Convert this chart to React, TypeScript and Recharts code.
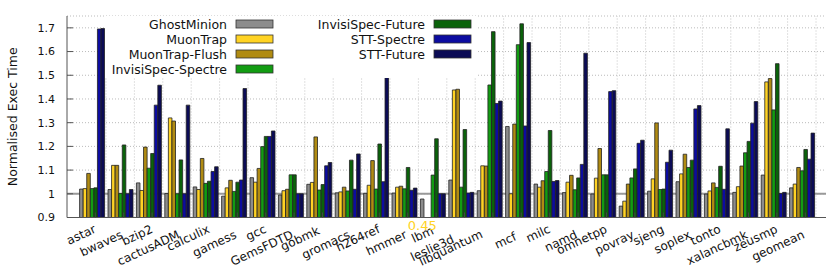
import React from 'react'
import {
  BarChart, Bar, XAxis, YAxis, CartesianGrid, ReferenceLine, Legend, LabelList,
} from 'recharts'

// SPEC benchmarks on the x axis
const benchmarks = [
  'astar', 'bwaves', 'bzip2', 'cactusADM', 'calculix', 'gamess', 'gcc', 'GemsFDTD',
  'gobmk', 'gromacs', 'h264ref', 'hmmer', 'lbm', 'leslie3d', 'libquantum', 'mcf',
  'milc', 'namd', 'omnetpp', 'povray', 'sjeng', 'soplex', 'tonto', 'xalancbmk',
  'zeusmp', 'geomean',
]

const ghostMinion = [1.02, 1.018, 1.046, 1.001, 1.029, 0.99, 1.068, 0.995, 1.04, 1.004, 1.002, 1.003, 0.978, 1.058, 1.013, 1.284, 1.041, 1.005, 0.999, 0.948, 1.011, 1.051, 0.999, 1.006, 1.079, 1.025]
const muonTrap = [1.022, 1.12, 1.014, 1.32, 1.018, 1.025, 1.049, 1.013, 1.048, 1.008, 1.036, 1.028, 0.45, 1.438, 1.118, 1.0, 1.028, 1.049, 1.066, 0.969, 1.063, 1.084, 1.012, 1.03, 1.472, 1.041]
const muonTrapFlush = [1.086, 1.12, 1.197, 1.307, 1.149, 1.057, 1.107, 1.019, 1.24, 1.028, 1.14, 1.032, 0.46, 1.441, 1.117, 1.294, 1.055, 1.078, 1.191, 1.041, 1.299, 1.167, 1.046, 1.117, 1.486, 1.111]
const invisiSpecSpectre = [1.022, 1.001, 1.108, 1.0, 1.044, 1.01, 1.199, 1.08, 1.016, 1.012, 1.02, 1.021, 1.079, 1.028, 1.459, 1.629, 1.094, 1.017, 1.08, 1.067, 1.018, 1.111, 1.027, 1.173, 1.354, 1.097]
const invisiSpecFuture = [1.025, 1.206, 1.17, 1.143, 1.053, 1.049, 1.242, 1.08, 1.039, 1.142, 1.21, 1.111, 1.232, 1.271, 1.684, 1.717, 1.267, 1.067, 1.08, 1.105, 1.02, 1.142, 1.116, 1.221, 1.549, 1.187]
const sttSpectre = [1.695, 1.0, 1.374, 1.0, 1.094, 1.058, 1.242, 1.0, 1.118, 1.019, 1.051, 1.015, 1.0, 1.003, 1.381, 1.286, 1.052, 1.124, 1.431, 1.213, 1.133, 1.358, 1.019, 1.298, 1.001, 1.146]
const sttFuture = [1.697, 1.018, 1.458, 1.374, 1.114, 1.444, 1.265, 1.0, 1.132, 1.168, 1.524, 1.024, 1.0, 1.006, 1.391, 1.638, 1.056, 1.593, 1.435, 1.226, 1.184, 1.372, 1.274, 1.389, 1.006, 1.256]

const yTicks = [0.9, 1.0, 1.1, 1.2, 1.3, 1.4, 1.5, 1.6, 1.7]

const series = [
  { key: 'GhostMinion', values: ghostMinion, color: '#8c8c8c' },
  { key: 'MuonTrap', values: muonTrap, color: '#ffd324' },
  { key: 'MuonTrap-Flush', values: muonTrapFlush, color: '#b08b12' },
  { key: 'InvisiSpec-Spectre', values: invisiSpecSpectre, color: '#129c12' },
  { key: 'InvisiSpec-Future', values: invisiSpecFuture, color: '#0a620a' },
  { key: 'STT-Spectre', values: sttSpectre, color: '#0c0ca0' },
  { key: 'STT-Future', values: sttFuture, color: '#0b0b55' },
]

const data = benchmarks.map((name, i) => {
  const row: Record<string, string | number> = { name }
  series.forEach(s => { row[s.key] = s.values[i] })
  return row
})

// some labels sit further back along their baseline in the original
const labelNudge: Record<string, number> = {
  gobmk: 3.9, lbm: 3.4, leslie3d: 10.5, libquantum: 12, mcf: 4.4,
}

const FONT = '"DejaVu Sans", Verdana, sans-serif'

function BenchTick(props: any) {
  const { x, y, payload } = props
  const idx = benchmarks.indexOf(payload.value)
  const tx = x + 3.5
  const lower = idx % 2 === 1
  const back = labelNudge[payload.value] || 0
  const ax = tx + (lower ? 0 : 1.5) - back * 0.906
  const ay = y + (lower ? 20 : 14.5) + back * 0.423
  return (
    <g>
      <line x1={tx} y1={y} x2={tx} y2={y - 5} stroke="#444" />
      <text x={ax} y={ay} textAnchor="end" transform={`rotate(-25 ${ax} ${ay})`}
        fontSize={12} fontFamily={FONT} fill="#111">
        {payload.value}
      </text>
    </g>
  )
}

function YTitle(props: any) {
  const vb = props.viewBox || {}
  const cy = vb.y + vb.height / 2
  return (
    <text x={12} y={cy} transform={`rotate(-90 12 ${cy})`} textAnchor="middle"
      dominantBaseline="central" fontSize={12.5} fontFamily={FONT} fill="#111">
      Normalised Exec Time
    </text>
  )
}

// value that falls below the axis gets written under it
function OffScaleLabel(props: any) {
  const { value } = props
  if (value == null || value >= 0.9) return null
  const vb = props.viewBox || props
  const base = Math.min(vb.y, vb.y + vb.height)
  return (
    <text x={vb.x + vb.width / 2 - 3.5} y={base + 12.5} textAnchor="middle"
      fontSize={13} fontFamily={FONT} fill="#ffd324">
      {value}
    </text>
  )
}

function LegendBox() {
  return (
    <svg width={372} height={62} style={{ display: 'block', background: '#fff' }}>
      {series.map((s, i) => {
        const col = i < 4 ? 0 : 1
        const row = i < 4 ? i : i - 4
        const textEnd = col === 0 ? 122 : 320
        const cy = 8 + row * 15
        return (
          <g key={s.key}>
            <text x={textEnd} y={cy} textAnchor="end" dominantBaseline="central"
              fontSize={12.5} fontFamily={FONT} fill="#111">
              {s.key}
            </text>
            <rect x={textEnd + 9} y={cy - 4} width={37} height={8} fill={s.color}
              stroke="#333" strokeWidth={0.8} />
          </g>
        )
      })}
    </svg>
  )
}

const noTick = () => <g />

export default function App() {
  return (
    <div style={{ position: 'absolute', left: 0, top: 0, background: '#fff' }}>
      <BarChart width={830} height={277} data={data} barGap={0} barCategoryGap={1.7}
        margin={{ top: 16, right: 4, bottom: 9.5, left: 0 }}>
        <CartesianGrid vertical={false} stroke="#bbb" strokeDasharray="1 2" />
        {benchmarks.map(b => (
          <ReferenceLine key={b} x={b} position="end" stroke="#c4c4c4" strokeDasharray="1 2"
            zIndex={-60} />
        ))}
        <ReferenceLine y={1} stroke="#999" strokeWidth={2} zIndex={-55} />
        <XAxis dataKey="name" interval={0} tick={BenchTick} tickLine={false} tickSize={0}
          tickMargin={0} height={50} padding={{ left: 10.6, right: 10 }} stroke="#555" />
        <XAxis xAxisId="top" orientation="top" dataKey="name" height={0} tick={false}
          tickLine={false} stroke="#555" />
        <YAxis domain={[0.9, 1.75]} allowDataOverflow ticks={yTicks} width={67}
          tickSize={-6} tickMargin={18} stroke="#555"
          tick={{ fontSize: 11, fontFamily: FONT, fill: '#111' }}
          tickFormatter={(v: number) => String(Number(v.toFixed(1)))}
          label={<YTitle />} />
        <YAxis yAxisId="right" orientation="right" domain={[0.9, 1.75]} allowDataOverflow
          ticks={yTicks} width={0} tickSize={-6} tick={noTick} stroke="#555" />
        <Legend layout="horizontal" verticalAlign="middle" align="center"
          wrapperStyle={{ left: 105, top: 16, width: 372, height: 62 }}
          content={<LegendBox />} />
        {series.map(s => (
          <Bar key={s.key} dataKey={s.key} fill={s.color} stroke="#222" strokeWidth={0.8}
            barSize={3.57} isAnimationActive={false}>
            {s.key === 'MuonTrap' ? <LabelList dataKey={s.key} content={<OffScaleLabel />} /> : null}
          </Bar>
        ))}
      </BarChart>
    </div>
  )
}
